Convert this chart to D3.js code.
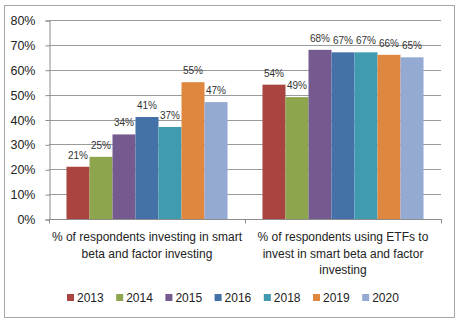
<!DOCTYPE html>
<html>
<head>
<meta charset="utf-8">
<script src="https://cdn.jsdelivr.net/npm/d3@7"></script>
<style>
  html, body { margin: 0; padding: 0; background: #fff; }
  svg { display: block; font-family: "Liberation Sans", Arial, sans-serif; }
</style>
</head>
<body>
<svg id="chart" width="460" height="324"></svg>
<script>
// Survey results by year for two questions
const categories = [
  ["% of respondents investing in smart", "beta and factor investing"],
  ["% of respondents using ETFs to", "invest in smart beta and factor", "investing"]
];
const years = ["2013", "2014", "2015", "2016", "2018", "2019", "2020"];
const investingSmartBeta = [21, 25, 34, 41, 37, 55, 47];
const usingEtfs = [54, 49, 68, 67, 67, 66, 65];
const yTicks = [0, 10, 20, 30, 40, 50, 60, 70, 80];
const colors = ["#A94441", "#8DA64E", "#755A90", "#4472A8", "#409BB1", "#E0873F", "#94AAD2"];

const seriesByCategory = [investingSmartBeta, usingEtfs];

const svg = d3.select("#chart");
const margin = { left: 49, right: 441, top: 20, bottom: 219 };

// outer frame
svg.append("rect")
  .attr("x", 4.5).attr("y", 5.5).attr("width", 450).attr("height", 312)
  .attr("fill", "#fff").attr("stroke", "#a6a6a6").attr("stroke-width", 1);

const x0 = d3.scaleBand().domain(d3.range(categories.length))
  .range([margin.left, margin.right]).paddingInner(0).paddingOuter(0);
const x1 = d3.scaleBand().domain(years)
  .range([0, x0.bandwidth()]).paddingOuter(0.76).paddingInner(0);
const y = d3.scaleLinear().domain([0, 80]).range([margin.bottom, margin.top]);

// gridlines
svg.append("g").selectAll("line").data(yTicks.slice(1)).join("line")
  .attr("x1", margin.left).attr("x2", margin.right)
  .attr("y1", d => Math.round(y(d)) + 0.5).attr("y2", d => Math.round(y(d)) + 0.5)
  .attr("stroke", "#9a9a9a").attr("stroke-width", 1);

// y axis
const yAxis = svg.append("g").attr("transform", `translate(${margin.left + 0.5},0.5)`)
  .call(d3.axisLeft(y).tickValues(yTicks).tickFormat(d => d + "%").tickSizeOuter(0).tickSize(4).tickPadding(10));
yAxis.select(".domain").attr("stroke", "#8c8c8c");
yAxis.selectAll(".tick line").attr("stroke", "#8c8c8c");
yAxis.selectAll(".tick text").attr("font-size", 12.5).attr("fill", "#222");

// bars
const groups = svg.append("g").selectAll("g").data(seriesByCategory).join("g")
  .attr("transform", (d, i) => `translate(${x0(i)},0)`);

groups.selectAll("rect").data(d => d.map((v, j) => ({ v, year: years[j], j }))).join("rect")
  .attr("x", d => x1(d.year))
  .attr("width", x1.bandwidth())
  .attr("y", d => y(d.v))
  .attr("height", d => y(0) - y(d.v))
  .attr("fill", d => colors[d.j]);

groups.selectAll("text").data(d => d.map((v, j) => ({ v, year: years[j] }))).join("text")
  .attr("x", d => x1(d.year) + x1.bandwidth() / 2)
  .attr("y", d => y(d.v) - 8)
  .attr("text-anchor", "middle")
  .attr("font-size", 10).attr("fill", "#333")
  .text(d => d.v + "%");

// x axis
const xAxisY = Math.round(y(0)) + 0.5;
svg.append("line").attr("x1", margin.left).attr("x2", margin.right + 0.5)
  .attr("y1", xAxisY).attr("y2", xAxisY).attr("stroke", "#8c8c8c");
const xTicks = [margin.left, x0(1), margin.right];
svg.append("g").selectAll("line").data(xTicks).join("line")
  .attr("x1", d => Math.round(d) + 0.5).attr("x2", d => Math.round(d) + 0.5)
  .attr("y1", xAxisY).attr("y2", xAxisY + 4).attr("stroke", "#8c8c8c");

// category labels
svg.append("g").selectAll("text").data(categories).join("text")
  .attr("x", (d, i) => x0(i) + x0.bandwidth() / 2)
  .attr("y", 241)
  .attr("text-anchor", "middle")
  .attr("font-size", 12).attr("fill", "#222")
  .each(function(lines) {
    d3.select(this).selectAll("tspan").data(lines).join("tspan")
      .attr("x", d3.select(this).attr("x"))
      .attr("dy", (l, k) => k === 0 ? 0 : 16.5)
      .text(l => l);
  });

// legend
const legend = svg.append("g").selectAll("g").data(years).join("g")
  .attr("transform", (d, i) => `translate(${67 + i * 49.2},298)`);
legend.append("rect").attr("x", 0).attr("y", -4).attr("width", 7).attr("height", 7)
  .attr("fill", (d, i) => colors[i]);
legend.append("text").attr("x", 10).attr("y", 4)
  .attr("font-size", 12).attr("fill", "#222").text(d => d);
</script>
</body>
</html>
